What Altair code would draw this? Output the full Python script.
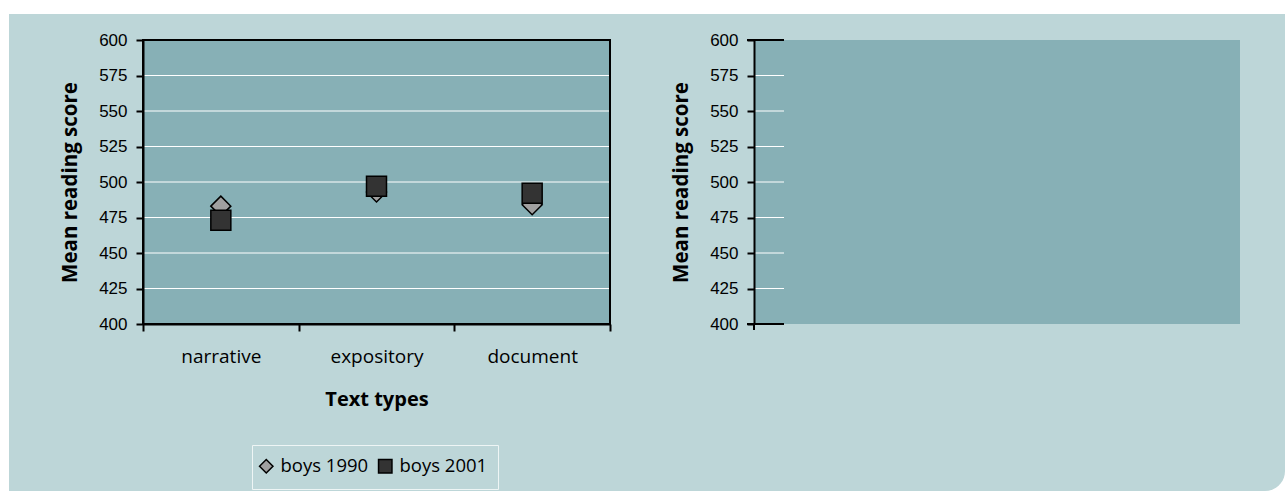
import altair as alt
import pandas as pd

# Mean reading scores by text type
categories = ["narrative", "expository", "document"]
boys_1990 = [483, 493, 484]
boys_2001 = [473, 497, 492]
series_names = ["boys 1990", "boys 2001"]
score_ticks = [400, 425, 450, 475, 500, 525, 550, 575, 600]
inner_grid = [425, 450, 475, 500, 525, 550, 575]
frame_edges = [400, 600]

BG = "#BDD6D8"
PLOT = "#87B0B6"
W_LEFT, W_RIGHT, H = 467, 486, 284

rows = []
for name, vals in zip(series_names, [boys_1990, boys_2001]):
    for cat, v in zip(categories, vals):
        rows.append({"type": cat, "series": name, "score": v})
scores = pd.DataFrame(rows)
grid_df = pd.DataFrame({"score": inner_grid})
edge_df = pd.DataFrame({"score": frame_edges})
one = pd.DataFrame({"k": [0]})

yscale = alt.Scale(domain=[400, 600], nice=False, zero=False)


def y_axis():
    return alt.Axis(
        values=score_ticks, title="Mean reading score", grid=False,
        tickSize=7, tickWidth=2, tickColor="black",
        domainColor="black", domainWidth=2,
        labelFont="Liberation Sans", labelFontSize=17, labelColor="black",
        labelPadding=9,
        titleFont="Open Sans", titleFontSize=20.5, titleFontWeight="bold",
        titleColor="black", titleAngle=-90, titleX=-73, titleY=H / 2,
        titleAlign="center", titleBaseline="middle", zindex=1,
    )


# page backdrop: white margin and the rounded panel behind both charts
page = alt.Chart(one).mark_rect(fill="white", strokeWidth=0).encode(
    x=alt.value(-143), x2=alt.value(1142), y=alt.value(-40), y2=alt.value(451)
)
panel = alt.Chart(one).mark_rect(fill=BG, strokeWidth=0, cornerRadiusBottomRight=20).encode(
    x=alt.value(-134), x2=alt.value(1142), y=alt.value(-26), y2=alt.value(451)
)
# frame around the legend entries
legend_box = alt.Chart(one).mark_rect(fill=None, stroke="#EEF5F5", strokeWidth=1).encode(
    x=alt.value(109.5), x2=alt.value(355.5), y=alt.value(405.5), y2=alt.value(449.5)
)
plot_bg = alt.Chart(one).mark_rect(fill=PLOT, stroke="black", strokeWidth=2).encode(
    x=alt.value(0), x2=alt.value(W_LEFT), y=alt.value(0), y2=alt.value(H)
)
grid = alt.Chart(grid_df).mark_rule(color="white", strokeWidth=1).encode(
    y=alt.Y("score:Q", scale=yscale, axis=y_axis()),
    x=alt.value(1), x2=alt.value(W_LEFT - 1),
)
points = alt.Chart(scores).mark_point(
    filled=True, size=400, stroke="black", strokeWidth=1.5, opacity=1
).encode(
    x=alt.X(
        "type:N", sort=categories,
        scale=alt.Scale(type="band", paddingInner=0, paddingOuter=0),
        axis=alt.Axis(
            title="Text types", labelAngle=0, tickBand="extent",
            tickSize=7, tickWidth=2, tickColor="black",
            domainColor="black", domainWidth=2,
            labelFont="Open Sans", labelFontSize=19, labelColor="black",
            labelPadding=16,
            titleFont="Open Sans", titleFontSize=20, titleFontWeight="bold",
            titleColor="black", titleX=W_LEFT / 2, titleY=75,
            titleBaseline="middle", zindex=1,
        ),
    ),
    y=alt.Y("score:Q", scale=yscale, axis=y_axis()),
    color=alt.Color(
        "series:N",
        scale=alt.Scale(domain=series_names, range=["#A0A0A0", "#333333"]),
        legend=alt.Legend(
            title=None, orient="none", legendX=109, legendY=412,
            direction="horizontal", labelFont="Open Sans",
            labelFontSize=18.5, labelColor="black", symbolSize=180,
            symbolStrokeColor="black", symbolStrokeWidth=1.5,
            padding=5, columnPadding=6, labelOffset=5,
        ),
    ),
    shape=alt.Shape(
        "series:N",
        scale=alt.Scale(domain=series_names, range=["diamond", "square"]),
    ),
)

left = alt.layer(page, panel, legend_box, plot_bg, grid, points).properties(
    width=W_LEFT, height=H
)

# second chart: axis and empty plotting area
right_bg = alt.Chart(one).mark_rect(fill=PLOT, strokeWidth=0).encode(
    x=alt.value(1), x2=alt.value(W_RIGHT), y=alt.value(0), y2=alt.value(H)
)
right_stubs = alt.Chart(grid_df).mark_rule(color="white", strokeWidth=1).encode(
    y=alt.Y("score:Q", scale=yscale, axis=y_axis()),
    x=alt.value(1), x2=alt.value(30),
)
right_edges = alt.Chart(edge_df).mark_rule(color="black", strokeWidth=2).encode(
    y=alt.Y("score:Q", scale=yscale, axis=y_axis()),
    x=alt.value(-7), x2=alt.value(30),
)
right_tick = alt.Chart(one).mark_rule(color="black", strokeWidth=2).encode(
    x=alt.value(0), y=alt.value(H), y2=alt.value(H + 6)
)
right = alt.layer(right_bg, right_stubs, right_edges, right_tick).properties(
    width=W_RIGHT, height=H
)

chart = alt.hconcat(left, right, spacing=144, bounds="flush").properties(
    padding=0, background="white"
).configure_view(stroke=None).resolve_scale(y="independent")

chart.save("out.html", embed_options={"renderer": "svg", "actions": False})
